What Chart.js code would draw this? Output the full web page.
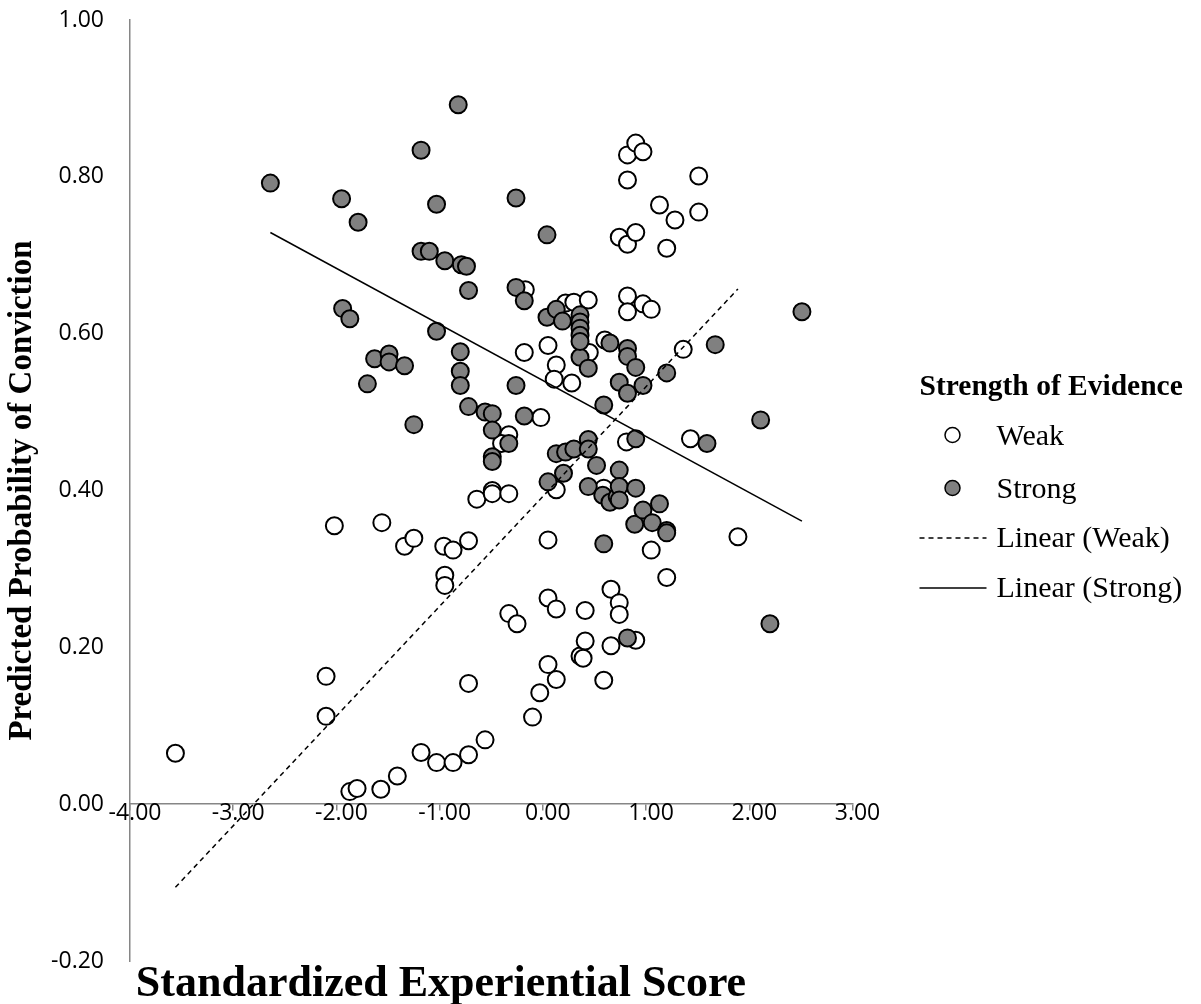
<!DOCTYPE html>
<html>
<head>
<meta charset="utf-8">
<script src="https://cdn.jsdelivr.net/npm/chart.js@4.4.1/dist/chart.umd.min.js"></script>
<style>
  body { margin: 0; background: #fff; }
  #wrap { width: 1201px; height: 1004px; }
</style>
</head>
<body>
<div id="wrap"><canvas id="myScatter" width="1201" height="1004"></canvas></div>
<script>
// values
var weakX = [-3.56, -2.10, -2.10, -2.02, -1.87, -1.80, -1.57, -1.56, -1.41, -1.34, -1.25, -1.18, -1.03, -0.96, -0.95, -0.95, -0.87, -0.87, -0.72, -0.72, -0.72, -0.64, -0.56, -0.49, -0.49, -0.33, -0.33, -0.40, -0.33, -0.25, -0.17, -0.18, -0.02, -0.10, -0.03, 0.05, 0.05, 0.05, 0.05, 0.13, 0.11, 0.13, 0.13, 0.13, 0.22, 0.30, 0.28, 0.36, 0.39, 0.41, 0.41, 0.44, 0.45, 0.59, 0.59, 0.60, 0.66, 0.66, 0.74, 0.74, 0.74, 0.81, 0.82, 0.82, 0.82, 0.82, 0.82, 0.90, 0.90, 0.90, 0.97, 0.97, 1.05, 1.05, 1.13, 1.20, 1.20, 1.28, 1.36, 1.43, 1.51, 1.51, 1.89];
var weakY = [0.065, 0.163, 0.112, 0.355, 0.016, 0.020, 0.019, 0.359, 0.036, 0.329, 0.339, 0.066, 0.053, 0.329, 0.292, 0.279, 0.324, 0.053, 0.336, 0.154, 0.063, 0.389, 0.082, 0.400, 0.396, 0.396, 0.471, 0.460, 0.243, 0.230, 0.656, 0.576, 0.493, 0.111, 0.142, 0.585, 0.337, 0.263, 0.178, 0.560, 0.542, 0.401, 0.249, 0.159, 0.639, 0.640, 0.537, 0.189, 0.186, 0.247, 0.208, 0.643, 0.576, 0.403, 0.158, 0.592, 0.274, 0.202, 0.257, 0.242, 0.723, 0.462, 0.828, 0.796, 0.714, 0.648, 0.628, 0.843, 0.729, 0.209, 0.832, 0.638, 0.631, 0.324, 0.764, 0.709, 0.289, 0.745, 0.580, 0.466, 0.801, 0.755, 0.341];

var strongX = [-2.64, -1.95, -1.79, -1.94, -1.87, -1.70, -1.63, -1.49, -1.49, -1.34, -1.25, -1.18, -1.18, -1.10, -1.03, -1.03, -0.95, -0.82, -0.79, -0.74, -0.72, -0.80, -0.80, -0.80, -0.72, -0.56, -0.49, -0.49, -0.49, -0.49, -0.33, -0.26, -0.26, -0.26, -0.18, -0.18, 0.04, 0.04, 0.05, 0.13, 0.13, 0.19, 0.20, 0.22, 0.30, 0.36, 0.36, 0.36, 0.36, 0.36, 0.44, 0.44, 0.44, 0.44, 0.52, 0.59, 0.58, 0.59, 0.65, 0.65, 0.72, 0.74, 0.74, 0.74, 0.74, 0.82, 0.82, 0.82, 0.82, 0.90, 0.90, 0.90, 0.89, 0.97, 0.97, 1.06, 1.13, 1.20, 1.20, 1.20, 1.59, 1.67, 2.11, 2.20, 2.51, 0.36];
var strongY = [0.792, 0.772, 0.742, 0.632, 0.619, 0.536, 0.568, 0.574, 0.564, 0.559, 0.484, 0.834, 0.705, 0.705, 0.765, 0.603, 0.693, 0.892, 0.688, 0.686, 0.655, 0.577, 0.552, 0.534, 0.507, 0.500, 0.498, 0.477, 0.443, 0.437, 0.460, 0.773, 0.659, 0.534, 0.642, 0.495, 0.726, 0.621, 0.411, 0.631, 0.447, 0.616, 0.422, 0.449, 0.453, 0.624, 0.615, 0.607, 0.598, 0.570, 0.556, 0.465, 0.453, 0.405, 0.432, 0.509, 0.394, 0.332, 0.588, 0.385, 0.392, 0.538, 0.426, 0.405, 0.388, 0.581, 0.571, 0.524, 0.212, 0.557, 0.466, 0.403, 0.357, 0.534, 0.375, 0.359, 0.383, 0.550, 0.349, 0.346, 0.460, 0.586, 0.490, 0.230, 0.628, 0.590];

// trend line end points (Excel linear trendlines)
var weakTrendX = [-3.56, 1.89];
var weakTrendY = [-0.106, 0.657];
var strongTrendX = [-2.64, 2.51];
var strongTrendY = [0.729, 0.361];

var xTitle = "Standardized Experiential Score";
var yTitle = "Predicted Probability of Conviction";
var legendTitle = "Strength of Evidence";

function pts(xs, ys) {
  return xs.map(function (x, i) { return { x: x, y: ys[i] }; });
}
function fmt(v) {
  if (Math.abs(v) < 1e-9) v = 0;
  return v.toFixed(2);
}

// titles and the legend box on the right
var overlay = {
  id: 'overlay',
  afterDraw: function (chart) {
    var c = chart.ctx, a = chart.chartArea;
    c.save();
    c.fillStyle = '#000';
    c.textAlign = 'center';
    c.textBaseline = 'alphabetic';
    c.font = 'bold 44px "Liberation Serif"';
    c.fillText(xTitle, a.left + 311, a.bottom + 35);
    c.font = 'bold 33px "Liberation Serif"';
    c.textBaseline = 'middle';
    c.save();
    c.translate(22, (a.top + a.bottom) / 2);
    c.rotate(-Math.PI / 2);
    c.fillText(yTitle, 0, 0);
    c.restore();

    var lx = a.right + 67, top = a.top;
    c.textAlign = 'left';
    c.textBaseline = 'alphabetic';
    c.font = 'bold 29.5px "Liberation Serif"';
    c.fillText(legendTitle, lx, top + 375);

    var ds = chart.data.datasets;
    c.font = '30px "Liberation Serif"';
    var rows = [425, 478, 527, 577];
    for (var i = 0; i < 4; i++) {
      var d = ds[i], cy = top + rows[i] - 10;
      if (d.type === 'line') {
        c.beginPath();
        c.setLineDash(d.borderDash || []);
        c.strokeStyle = d.borderColor;
        c.lineWidth = d.borderWidth;
        c.moveTo(lx, cy + 1);
        c.lineTo(lx + 67, cy + 1);
        c.stroke();
        c.setLineDash([]);
      } else {
        c.beginPath();
        c.arc(lx + 33, cy, 7.5, 0, Math.PI * 2);
        c.fillStyle = d.backgroundColor;
        c.fill();
        c.lineWidth = 1.5;
        c.strokeStyle = d.borderColor;
        c.stroke();
      }
      c.fillStyle = '#000';
      c.fillText(d.label, lx + 77, top + rows[i]);
    }
    c.restore();
  }
};

Chart.defaults.color = '#000';
Chart.defaults.font.family = '"Open Sans", sans-serif';

var ctx = document.getElementById("myScatter");
var myScatter = new Chart(ctx, {
  type: 'scatter',
  data: {
    datasets: [{
      label: "Weak",
      data: pts(weakX, weakY),
      backgroundColor: "#ffffff",
      borderColor: "#000000",
      borderWidth: 2,
      pointRadius: 8.5,
      order: 2
    }, {
      label: "Strong",
      data: pts(strongX, strongY),
      backgroundColor: "#808080",
      borderColor: "#000000",
      borderWidth: 2,
      pointRadius: 8.5,
      order: 1
    }, {
      type: 'line',
      label: "Linear (Weak)",
      data: pts(weakTrendX, weakTrendY),
      borderColor: "#000000",
      borderWidth: 1.5,
      borderDash: [5, 4],
      pointRadius: 0,
      fill: false,
      order: 0
    }, {
      type: 'line',
      label: "Linear (Strong)",
      data: pts(strongTrendX, strongTrendY),
      borderColor: "#000000",
      borderWidth: 1.5,
      pointRadius: 0,
      fill: false,
      order: 0
    }]
  },
  options: {
    responsive: false,
    animation: false,
    layout: { padding: { left: 0, right: 348.5, top: 20, bottom: 43 } },
    scales: {
      x: {
        type: 'linear',
        position: { y: 0 },
        min: -4,
        max: 3,
        ticks: { stepSize: 1, callback: fmt, font: { size: 23 }, padding: -11, labelOffset: 5 },
        grid: { drawOnChartArea: false, drawTicks: true, tickLength: 6, color: "#868686", lineWidth: 1.5 },
        border: { color: "#868686", width: 1.5 }
      },
      y: {
        min: -0.2,
        max: 1.0,
        ticks: { stepSize: 0.2, callback: fmt, font: { size: 23 }, padding: 26 },
        grid: { display: false, drawTicks: false },
        border: { display: true, color: "#868686", width: 1.5 },
        afterFit: function (s) {
          s.width = 130;
          s.paddingTop = 0;
          s.paddingBottom = 0;
        }
      }
    },
    plugins: {
      legend: { display: false },
      tooltip: { enabled: false }
    }
  },
  plugins: [overlay]
});
</script>
</body>
</html>
